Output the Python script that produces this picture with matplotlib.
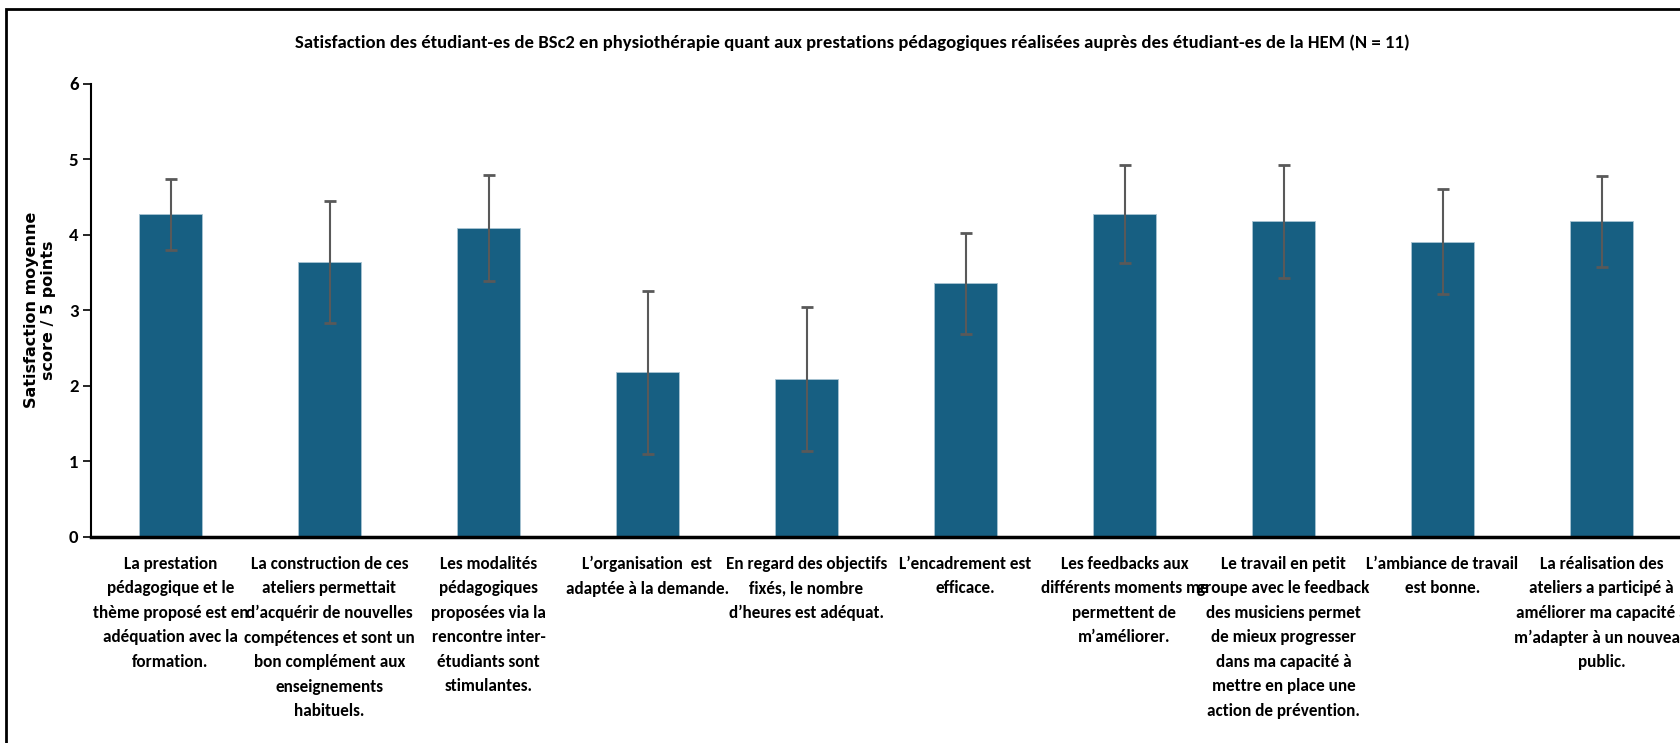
import matplotlib.pyplot as plt
from matplotlib.patches import Rectangle

items = [
    "La prestation\npédagogique et le\nthème proposé est en\nadéquation avec la\nformation.",
    "La construction de ces\nateliers permettait\nd’acquérir de nouvelles\ncompétences et sont un\nbon complément aux\nenseignements\nhabituels.",
    "Les modalités\npédagogiques\nproposées via la\nrencontre inter-\nétudiants sont\nstimulantes.",
    "L’organisation  est\nadaptée à la demande.",
    "En regard des objectifs\nfixés, le nombre\nd’heures est adéquat.",
    "L’encadrement est\nefficace.",
    "Les feedbacks aux\ndifférents moments me\npermettent de\nm’améliorer.",
    "Le travail en petit\ngroupe avec le feedback\ndes musiciens permet\nde mieux progresser\ndans ma capacité à\nmettre en place une\naction de prévention.",
    "L’ambiance de travail\nest bonne.",
    "La réalisation des\nateliers a participé à\naméliorer ma capacité à\nm’adapter à un nouveau\npublic.",
]
means = [4.27, 3.64, 4.09, 2.18, 2.09, 3.36, 4.27, 4.18, 3.91, 4.18]
sds = [0.47, 0.81, 0.70, 1.08, 0.95, 0.67, 0.65, 0.75, 0.70, 0.60]
yticks = [0, 1, 2, 3, 4, 5, 6]

calibri = ['Carlito', 'DejaVu Sans']

fig = plt.figure(figsize=(16.81, 7.43), dpi=100)
ax = fig.add_axes([91 / 1681, (743 - 536.5) / 743, 1590 / 1681, (536.5 - 84) / 743])

x = list(range(len(items)))
ax.bar(x, means, width=0.40, color='#175f82', edgecolor='#a9c4d3', linewidth=0.6, zorder=2)
ax.errorbar(x, means, yerr=sds, fmt='none', ecolor='#595959', elinewidth=1.5,
            capsize=4, capthick=2, zorder=3)

ax.set_xlim(-0.5, len(items) - 0.5)
ax.set_ylim(0, 6)
ax.set_yticks(yticks)
ax.set_yticklabels([str(t) for t in yticks], family=calibri, fontweight='bold', fontsize=13.5)
ax.set_xticks(x)
ax.set_xticklabels(items, family=calibri, fontweight='bold', fontsize=12.3, linespacing=1.65, va='top')
ax.tick_params(axis='x', length=0, pad=14)
ax.tick_params(axis='y', length=6, width=1.2, pad=3)

for s in ['top', 'right']:
    ax.spines[s].set_visible(False)
ax.spines['left'].set_linewidth(1.5)
ax.spines['bottom'].set_linewidth(2.5)

ax.set_ylabel("Satisfaction moyenne\nscore / 5 points", family='DejaVu Sans',
              fontweight='bold', fontsize=11.5, linespacing=1.2, labelpad=9)

fig.text(852 / 1681, 1 - 43 / 743,
         "Satisfaction des étudiant-es de BSc2 en physiothérapie quant aux prestations pédagogiques réalisées auprès des étudiant-es de la HEM (N = 11)",
         ha='center', va='center', family=calibri, fontweight='bold', fontsize=13.4)

# chart border (cropped on right and bottom)
fig.patches.append(Rectangle((6 / 1681, -0.1), 1.2, 1.1 - 9 / 743, transform=fig.transFigure,
                             fill=False, edgecolor='black', linewidth=2))

fig.savefig('out.png', dpi=100)
